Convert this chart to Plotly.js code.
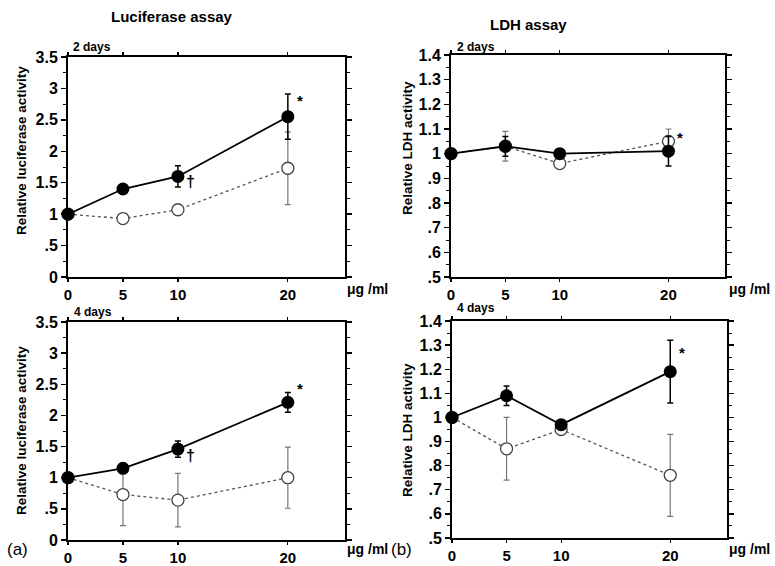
<!DOCTYPE html>
<html><head><meta charset="utf-8">
<script src="https://cdn.plot.ly/plotly-3.0.1.min.js"></script>
<style>body{margin:0;background:#fff}</style>
</head><body><div id="chart" style="width:775px;height:566px"></div>
<script>
const doses = [0, 5, 10, 20];
// (a) Luciferase assay, 2 days
const luc2Filled = [1.0, 1.4, 1.6, 2.55];
const luc2FilledErr = [0, 0.03, 0.17, 0.36];
const luc2Open = [1.0, 0.93, 1.07, 1.73];
const luc2OpenErr = [0, 0.05, 0.08, 0.58];
// (a) Luciferase assay, 4 days
const luc4Filled = [1.0, 1.15, 1.46, 2.21];
const luc4FilledErr = [0, 0.03, 0.13, 0.16];
const luc4Open = [1.0, 0.73, 0.64, 1.0];
const luc4OpenErr = [0, 0.5, 0.43, 0.49];
// (b) LDH assay, 2 days
const ldh2Filled = [1.0, 1.03, 1.0, 1.01];
const ldh2FilledErr = [0, 0.04, 0.01, 0.06];
const ldh2Open = [1.0, 1.03, 0.96, 1.05];
const ldh2OpenErr = [0, 0.06, 0.01, 0.05];
// (b) LDH assay, 4 days
const ldh4Filled = [1.0, 1.09, 0.97, 1.19];
const ldh4FilledErr = [0, 0.04, 0.01, 0.13];
const ldh4Open = [1.0, 0.87, 0.95, 0.76];
const ldh4OpenErr = [0, 0.13, 0.01, 0.17];

const lucTickVals = [0, 0.5, 1, 1.5, 2, 2.5, 3, 3.5];
const lucTickText = ['0', '.5', '1', '1.5', '2', '2.5', '3', '3.5'];
const ldhTickVals = [0.5, 0.6, 0.7, 0.8, 0.9, 1.0, 1.1, 1.2, 1.3, 1.4];
const ldhTickText = ['.5', '.6', '.7', '.8', '.9', '1', '1.1', '1.2', '1.3', '1.4'];
const xTickText = ['0', '5', '10', '20'];

const FONT = 'Liberation Sans, Arial, sans-serif';
const bold = arr => arr.map(t => '<b>' + t + '</b>');

function openTrace(y, err, xa, ya) {
  return {x: doses, y: y, xaxis: xa, yaxis: ya, type: 'scatter', mode: 'lines+markers',
    line: {color: '#555', width: 1.3, dash: 'dot'},
    marker: {symbol: 'circle', size: 12, color: '#fff', line: {color: '#444', width: 1.3}},
    error_y: {type: 'data', array: err, visible: true, color: '#777', thickness: 1.2, width: 3},
    cliponaxis: false, showlegend: false, hoverinfo: 'skip'};
}
function filledTrace(y, err, xa, ya) {
  return {x: doses, y: y, xaxis: xa, yaxis: ya, type: 'scatter', mode: 'lines+markers',
    line: {color: '#000', width: 1.8},
    marker: {symbol: 'circle', size: 13, color: '#000'},
    error_y: {type: 'data', array: err, visible: true, color: '#000', thickness: 1.5, width: 3},
    cliponaxis: false, showlegend: false, hoverinfo: 'skip'};
}

const data = [
  openTrace(luc2Open, luc2OpenErr, 'x', 'y'), filledTrace(luc2Filled, luc2FilledErr, 'x', 'y'),
  openTrace(ldh2Open, ldh2OpenErr, 'x2', 'y2'), filledTrace(ldh2Filled, ldh2FilledErr, 'x2', 'y2'),
  openTrace(luc4Open, luc4OpenErr, 'x3', 'y3'), filledTrace(luc4Filled, luc4FilledErr, 'x3', 'y3'),
  openTrace(ldh4Open, ldh4OpenErr, 'x4', 'y4'), filledTrace(ldh4Filled, ldh4FilledErr, 'x4', 'y4')
];

function xAxis(domain, anchor) {
  return {domain: domain, anchor: anchor, range: [0, 25.2], tickvals: doses, ticktext: bold(xTickText),
    showline: true, linewidth: 2, linecolor: '#000', mirror: 'ticks', ticks: 'outside', ticklen: 3,
    tickwidth: 1.2, tickcolor: '#000', showgrid: false, zeroline: false,
    tickfont: {family: FONT, size: 15, color: '#000'}};
}
function yAxis(domain, anchor, range, tv, tt, minorD) {
  return {domain: domain, anchor: anchor, range: range, tickvals: tv, ticktext: bold(tt),
    showline: true, linewidth: 2, linecolor: '#000', mirror: 'ticks', ticks: 'outside', ticklen: 5,
    tickwidth: 1.3, tickcolor: '#000', showgrid: false, zeroline: false,
    minor: {ticks: 'outside', ticklen: 3, tickwidth: 1, tickcolor: '#000', dtick: minorD, tick0: range[0]},
    tickfont: {family: FONT, size: 16, color: '#000'}};
}

function txt(text, x, y, size, extra) {
  return Object.assign({text: text, x: x, y: y, xref: 'paper', yref: 'paper', showarrow: false,
    xanchor: 'center', yanchor: 'middle',
    font: {family: FONT, size: size, color: '#000'}}, extra || {});
}
function mark(text, x, y, xa, ya, xs, ys, size) {
  return {text: text, x: x, y: y, xref: xa, yref: ya, showarrow: false, xshift: xs, yshift: ys,
    font: {family: FONT, size: size, color: '#000'}};
}

const annotations = [
  txt('<b>Luciferase assay</b>', 172/775, 1 - 17/566, 15),
  txt('<b>LDH assay</b>', 528/775, 1 - 25/566, 15),
  txt('<b>2 days</b>', 92/775, 1 - 47/566, 12),
  txt('<b>2 days</b>', 476/775, 1 - 47/566, 12),
  txt('<b>4 days</b>', 93/775, 1 - 312/566, 12),
  txt('<b>4 days</b>', 476/775, 1 - 308/566, 12),
  txt('<b>Relative luciferase activity</b>', 21/775, 1 - 151/566, 13.5, {textangle: -90}),
  txt('<b>Relative LDH activity</b>', 407/775, 1 - 148/566, 13.5, {textangle: -90}),
  txt('<b>Relative luciferase activity</b>', 21/775, 1 - 431/566, 13.5, {textangle: -90}),
  txt('<b>Relative LDH activity</b>', 407/775, 1 - 430/566, 13.5, {textangle: -90}),
  txt('<b>\u03bcg /ml</b>', 367/775, 1 - 289/566, 14),
  txt('<b>\u03bcg /ml</b>', 749/775, 1 - 289/566, 14),
  txt('<b>\u03bcg /ml</b>', 367/775, 1 - 549/566, 14),
  txt('<b>\u03bcg /ml</b>', 749/775, 1 - 549/566, 14),
  txt('(a)', 17/775, 1 - 549/566, 17),
  txt('(b)', 401/775, 1 - 549/566, 17),
  mark('<b>*</b>', 20, luc2Filled[3] + luc2FilledErr[3], 'x', 'y', 12, -6, 15),
  mark('<b>\u2020</b>', 10, luc2Filled[2] - luc2FilledErr[2], 'x', 'y', 13, 6, 16),
  mark('<b>*</b>', 20, luc4Filled[3] + luc4FilledErr[3], 'x3', 'y3', 12, 4, 15),
  mark('<b>\u2020</b>', 10, luc4Filled[2] - luc4FilledErr[2], 'x3', 'y3', 13, 2, 16),
  mark('<b>*</b>', 20, ldh2Open[3] + ldh2OpenErr[3], 'x2', 'y2', 12, -8, 15),
  mark('<b>*</b>', 20, ldh4Filled[3] + ldh4FilledErr[3], 'x4', 'y4', 12, -12, 15)
];

const layout = {
  width: 775, height: 566, margin: {l: 0, r: 0, t: 0, b: 0},
  paper_bgcolor: '#fff', plot_bgcolor: '#fff', showlegend: false,
  xaxis: xAxis([68/775, 345/775], 'y'),
  yaxis: yAxis([1 - 277/566, 1 - 57/566], 'x', [0, 3.5], lucTickVals, lucTickText, 0.25),
  xaxis2: xAxis([451/775, 725/775], 'y2'),
  yaxis2: yAxis([1 - 277/566, 1 - 55/566], 'x2', [0.5, 1.4], ldhTickVals, ldhTickText, 0.05),
  xaxis3: xAxis([68/775, 345/775], 'y3'),
  yaxis3: yAxis([1 - 540/566, 1 - 322/566], 'x3', [0, 3.5], lucTickVals, lucTickText, 0.25),
  xaxis4: xAxis([452/775, 727/775], 'y4'),
  yaxis4: yAxis([1 - 538/566, 1 - 321/566], 'x4', [0.5, 1.4], ldhTickVals, ldhTickText, 0.05),
  annotations: annotations
};

Plotly.newPlot('chart', data, layout, {staticPlot: true, displayModeBar: false});
</script></body></html>
